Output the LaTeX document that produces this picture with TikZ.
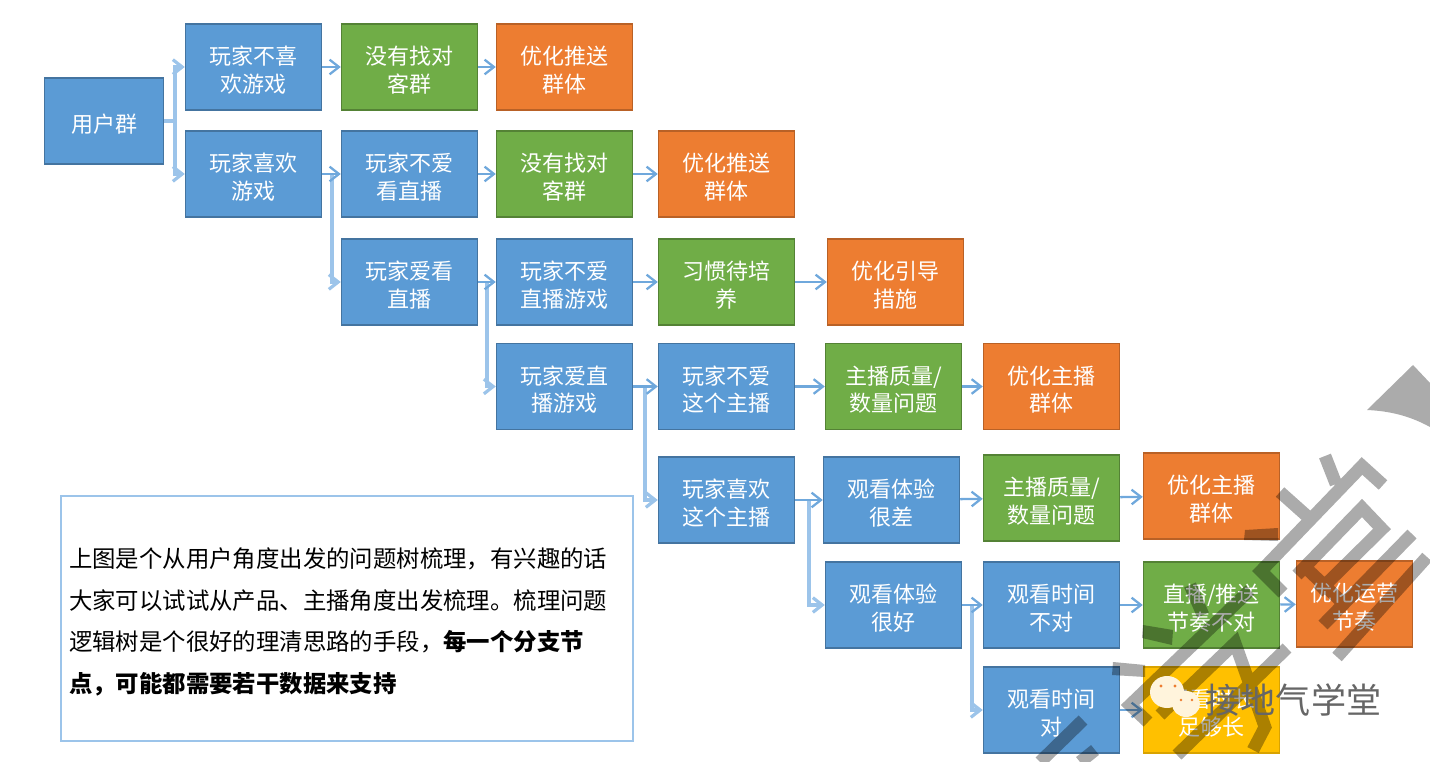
\documentclass[tikz,border=0pt]{standalone}
\usepackage{fontspec}
\setmainfont{Noto Sans CJK SC}
\usetikzlibrary{arrows.meta}
\definecolor{boxblue}{HTML}{5B9BD5}
\definecolor{boxgreen}{HTML}{70AD47}
\definecolor{boxorange}{HTML}{ED7D31}
\definecolor{boxyellow}{HTML}{FFC000}
\definecolor{linkblue}{HTML}{6FA8DC}
\definecolor{trunkblue}{HTML}{9CC4EA}
\definecolor{bubble}{HTML}{FFF4DC}

\begin{document}
\begin{tikzpicture}[x=0.75pt, y=-0.75pt,
  treebox/.style={text width=102pt, minimum height=64.5pt, inner sep=0pt,
    line width=1.1pt, text=white, align=center,
    font=\fontsize{16.5}{20.6}\selectfont,
    execute at begin node={\rule{0pt}{18.5pt}}},
  bluebox/.style={treebox, fill=boxblue, draw=boxblue!75!black},
  greenbox/.style={treebox, fill=boxgreen, draw=boxgreen!75!black},
  orangebox/.style={treebox, fill=boxorange, draw=boxorange!78!black},
  yellowbox/.style={treebox, fill=boxyellow, draw=boxyellow!85!black},
  notebox/.style={draw=trunkblue, line width=1.1pt, fill=white, text width=417pt,
    minimum height=183.75pt, inner sep=6pt, align=left,
    font=\fontsize{17.55}{31.3}\selectfont,
    execute at begin node={\rule{0pt}{20pt}}},
  flow/.style={draw=linkblue, line width=1.7pt, -{Straight Barb[length=7pt,width=11pt]}},
  branch/.style={draw=trunkblue, line width=2.4pt, -{Straight Barb[length=7pt,width=11pt]}},
  wmark/.style={draw=black, opacity=.33, line width=9.5pt, miter limit=10}]
  \useasboundingbox (0,0) rectangle (1430,762);

  % 第一列
  \node[bluebox, text width=89.5pt] (user) at (104,121) {用户群};
  % 第一行
  \node[bluebox] (nolike) at (253.5,67) {玩家不喜\\欢游戏};
  \node[greenbox] (wrong1) at (409.5,67) {没有找对\\客群};
  \node[orangebox] (push1) at (564.5,67) {优化推送\\群体};
  % 第二行
  \node[bluebox] (like) at (253.5,174) {玩家喜欢\\游戏};
  \node[bluebox] (nolive) at (409.5,174) {玩家不爱\\看直播};
  \node[greenbox] (wrong2) at (564.5,174) {没有找对\\客群};
  \node[orangebox] (push2) at (726.5,174) {优化推送\\群体};
  % 第三行
  \node[bluebox] (live) at (409.5,282) {玩家爱看\\直播};
  \node[bluebox] (nogame) at (564.5,282) {玩家不爱\\直播游戏};
  \node[greenbox] (habit) at (726.5,282) {习惯待培\\养};
  \node[orangebox] (guide) at (895.5,282) {优化引导\\措施};
  % 第四行
  \node[bluebox] (game) at (564.5,386.5) {玩家爱直\\播游戏};
  \node[bluebox] (nohost) at (726.5,386.5) {玩家不爱\\这个主播};
  \node[greenbox] (quality1) at (893.5,386.5) {主播质量/\\数量问题};
  \node[orangebox] (hosts1) at (1051.5,386.5) {优化主播\\群体};
  % 第五行
  \node[bluebox] (host) at (726.5,500) {玩家喜欢\\这个主播};
  \node[bluebox] (bad) at (891.5,500) {观看体验\\很差};
  \node[greenbox] (quality2) at (1051.5,498) {主播质量/\\数量问题};
  \node[orangebox] (hosts2) at (1211.5,496) {优化主播\\群体};
  % 第六行
  \node[bluebox] (good) at (893.5,605) {观看体验\\很好};
  \node[bluebox] (notime) at (1051.5,605) {观看时间\\不对};
  \node[greenbox] (rhythm) at (1211.5,605) {直播/推送\\节奏不对};
  \node[orangebox, text width=87pt] (ops) at (1354.5,604) {优化运营\\节奏};
  % 第七行
  \node[bluebox] (time) at (1051.5,710) {观看时间\\对};
  \node[yellowbox] (long) at (1211.5,710) {观看时长\\足够长};

  % 说明
  \node[notebox] (note) at (347,618.5) {上图是个从用户角度出发的问题树梳理，有兴趣的话\\
    大家可以试试从产品、主播角度出发梳理。梳理问题\\
    逻辑树是个很好的理清思路的手段，\textbf{每一个分支节}\\
    \textbf{点，可能都需要若干数据来支持}};

  % 分叉
  \coordinate (fork1) at (175,121);
  \coordinate (fork2) at (332,174);
  \coordinate (fork3) at (487,282);
  \coordinate (fork4) at (645,386.5);
  \coordinate (fork5) at (809,500);
  \coordinate (fork6) at (972,605);
  \draw[branch] (user.east) -- (fork1) |- (nolike.west);
  \draw[branch] (user.east) -- (fork1) |- (like.west);
  \draw[branch] (fork2) |- (live.west);
  \draw[flow] (like.east) -- (nolive.west);
  \draw[branch] (fork3) |- (game.west);
  \draw[flow] (live.east) -- (nogame.west);
  \draw[branch] (fork4) |- (host.west);
  \draw[flow] (game.east) -- (nohost.west);
  \draw[branch] (fork5) |- (good.west);
  \draw[flow] (host.east) -- (bad.west);
  \draw[branch] (fork6) |- (time.west);
  \draw[flow] (good.east) -- (notime.west);

  % 直线箭头
  \draw[flow] (nolike) -- (wrong1);
  \draw[flow] (wrong1) -- (push1);
  \draw[flow] (nolive) -- (wrong2);
  \draw[flow] (wrong2) -- (push2);
  \draw[flow] (nogame) -- (habit);
  \draw[flow] (habit) -- (guide);
  \draw[flow] (nohost) -- (quality1);
  \draw[flow] (quality1) -- (hosts1);
  \draw[flow] (bad) -- (quality2);
  \draw[flow] (quality2) -- (hosts2);
  \draw[flow] (notime) -- (rhythm);
  \draw[flow] (rhythm) -- (ops);
  \draw[flow] (time) -- (long);

  % 水印
  \draw[wmark]
    (1325,456) -- (1336,484)
    (1383,485) -- (1362,466) -- (1261,571) -- (1283,593)
    (1280,492) -- (1308,517)
    (1297,575) -- (1362,508) -- (1382,529) -- (1318,592)
    (1306,568) -- (1345,605)
    (1412,534) -- (1323,625)
    (1427,557) -- (1337,657)
    (1190,585) -- (1203,615)
    (1250,590) -- (1130,705) -- (1148,722)
    (1287,648) -- (1177,755)
    (1160,715) -- (1235,643) -- (1265,727) -- (1253,750)
    (1083,720) -- (1040,762)
    (1095,750) -- (1080,762);
  \fill[black, opacity=.33] (1245,530) -- (1278,528) -- (1278,541) -- (1244,540) -- cycle;
  \fill[black, opacity=.33] (1143,625) -- (1173,630) -- (1172,645) -- (1142,638) -- cycle;
  \fill[black, opacity=.33] (1113,662) -- (1145,665) -- (1145,677) -- (1112,675) -- cycle;
  \fill[black, opacity=.33] (1367,410) -- (1413,365) -- (1430,383) -- (1430,427) .. controls (1410,416) and (1390,411) .. (1367,410) -- cycle;
  % 公众号
  \fill[bubble] (1167,692) ellipse (17 and 16);
  \fill[bubble] (1186,704) ellipse (14 and 13);
  \fill[boxorange] (1161,686) circle (1.6);
  \fill[boxorange] (1175,686) circle (1.6);
  \fill[boxorange] (1181,700) circle (1.4);
  \fill[boxorange] (1192,700) circle (1.4);
  \node[text=black!60, font=\fontsize{26.3}{30}\selectfont] (brand) at (1293.5,700) {接地气学堂};
\end{tikzpicture}
\end{document}
